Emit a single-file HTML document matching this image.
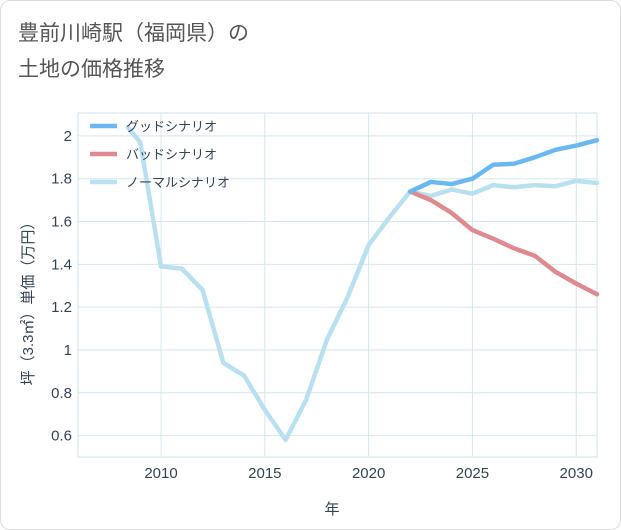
<!DOCTYPE html>
<html><head><meta charset="utf-8"><style>
body{margin:0;background:#fff;}
.card{position:absolute;left:0;top:0;width:619px;height:528px;border:1px solid #ddd;border-radius:10px;background:#fff;}
text{font-family:"Liberation Sans","Noto Sans CJK JP",sans-serif;}
</style></head><body>
<div class="card"></div>
<svg id="chart" width="621" height="530" style="position:absolute;left:0;top:0">
<text x="18" y="40" font-size="21" fill="#555">豊前川崎駅（福岡県）の</text>
<text x="18" y="76" font-size="21" fill="#555">土地の価格推移</text>
<g id="grid"></g><g id="axes"></g><g id="series"></g><g id="legend"></g>
<text x="332" y="514" font-size="15" fill="#345" text-anchor="middle">年</text>
<text transform="translate(33,300) rotate(-90)" font-size="15" fill="#345" text-anchor="middle">坪（3.3㎡）単価（万円）</text>
</svg>
<script>
const years=[2008.4,2009,2010,2011,2012,2013,2014,2015,2016,2017,2018,2019,2020,2021,2022,2023,2024,2025,2026,2027,2028,2029,2030,2031];
const normalVals=[2.04,1.97,1.39,1.38,1.28,0.94,0.88,0.72,0.58,0.77,1.05,1.25,1.49,1.62,1.74,1.72,1.75,1.73,1.77,1.76,1.77,1.765,1.79,1.78];
const futureYears=[2022,2023,2024,2025,2026,2027,2028,2029,2030,2031];
const goodVals=[1.74,1.785,1.775,1.80,1.865,1.87,1.90,1.935,1.955,1.98];
const badVals=[1.74,1.70,1.64,1.56,1.52,1.475,1.44,1.365,1.31,1.26];
const xTicks=[2010,2015,2020,2025,2030];
const yTicks=[0.6,0.8,1,1.2,1.4,1.6,1.8,2];
const seriesNames=["グッドシナリオ","バッドシナリオ","ノーマルシナリオ"];
const L=78,R=597,T=113,B=457,X0=2006,X1=2031,Y0=0.5,Y1=2.107;
const sx=v=>L+(v-X0)/(X1-X0)*(R-L), sy=v=>B-(v-Y0)/(Y1-Y0)*(B-T);
const NS="http://www.w3.org/2000/svg";
function mk(tag,attrs,parent){const e=document.createElementNS(NS,tag);for(const k in attrs)e.setAttribute(k,attrs[k]);document.getElementById(parent).appendChild(e);return e;}
let e=mk('rect',{x:L,y:T,width:R-L,height:B-T,fill:'none',stroke:'#cfe0ea'},'grid');


xTicks.forEach(t=>{let l=mk('line',{x1:sx(t),x2:sx(t),y1:T,y2:B,stroke:'#d4e6f0'},'grid');


let tx=mk('text',{x:sx(t),y:B+21,'font-size':15,fill:'#345','text-anchor':'middle'},'axes');tx.textContent=t;

});
yTicks.forEach(t=>{let l=mk('line',{x1:L,x2:R,y1:sy(t),y2:sy(t),stroke:'#d4e6f0'},'grid');


let tx=mk('text',{x:L-6,y:sy(t)+5,'font-size':15,fill:'#345','text-anchor':'end'},'axes');tx.textContent=t;

});
function line(xs,ys,color,name){const p=mk('path',{d:xs.map((x,i)=>(i?'L':'M')+sx(x)+','+sy(ys[i])).join(''),fill:'none',stroke:color,'stroke-width':4.5,'stroke-linejoin':'round','stroke-linecap':'round'},'series');

}
line(years,normalVals,'#b9e0f0','normal-series');
line(futureYears,badVals,'#e08a90','bad-series');
line(futureYears,goodVals,'#6ab8f2','good-series');
const legColors=['#6ab8f2','#e08a90','#b9e0f0'];
seriesNames.forEach((n,i)=>{const y=126+i*28;
let l=mk('line',{x1:90,x2:117,y1:y,y2:y,stroke:legColors[i],'stroke-width':4.5},'legend');


let t=mk('text',{x:126,y:y+5,'font-size':13,fill:'#345'},'legend');t.textContent=n;

});
</script>
</body></html>
